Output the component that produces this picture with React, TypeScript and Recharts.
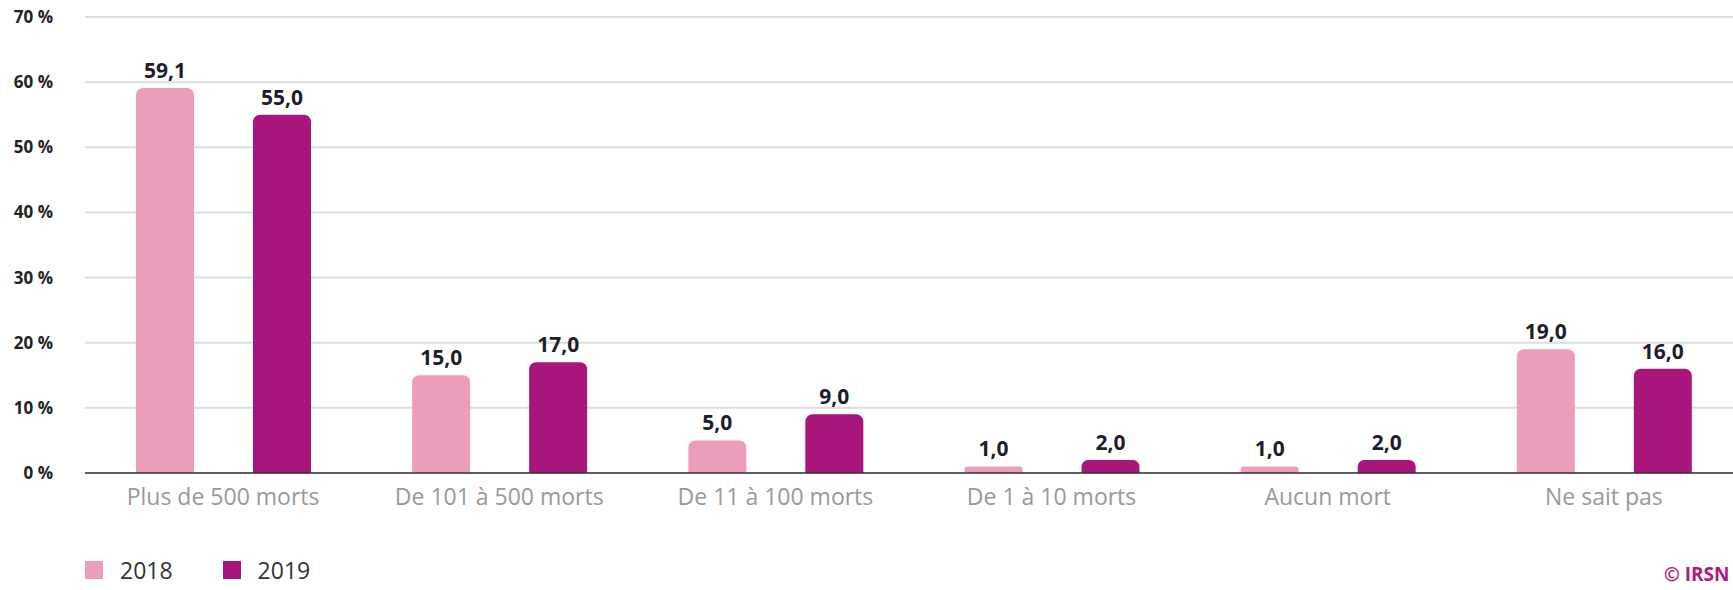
import { BarChart, Bar, XAxis, YAxis, CartesianGrid, LabelList } from "recharts";

// categories and series values
const categories = [
  "Plus de 500 morts",
  "De 101 à 500 morts",
  "De 11 à 100 morts",
  "De 1 à 10 morts",
  "Aucun mort",
  "Ne sait pas",
];
const values2018 = [59.1, 15.0, 5.0, 1.0, 1.0, 19.0];
const values2019 = [55.0, 17.0, 9.0, 2.0, 2.0, 16.0];
const yTicks = [0, 10, 20, 30, 40, 50, 60, 70];

const series = [
  { key: "y2018", name: "2018", color: "#EC9DBB", values: values2018 },
  { key: "y2019", name: "2019", color: "#A9167B", values: values2019 },
];

const data = categories.map((cat, i) => ({
  cat,
  y2018: values2018[i],
  y2019: values2019[i],
}));

const font = "'Open Sans', 'Noto Sans', sans-serif";
const fmt = (v: any) => Number(v).toFixed(1).replace(".", ",");

export default function App() {
  return (
    <div
      style={{
        position: "absolute",
        left: 0,
        top: 0,
        width: 1733,
        height: 590,
        overflow: "hidden",
        background: "#fff",
        fontFamily: font,
      }}
    >
      <BarChart
        width={1760}
        height={590}
        data={data}
        margin={{ top: 17, right: 18, bottom: 0, left: 0 }}
        barGap={59}
      >
        <CartesianGrid vertical={false} stroke="#dddddd" strokeWidth={2} />
        <YAxis
          width={85}
          domain={[0, 70]}
          ticks={yTicks}
          interval={0}
          axisLine={false}
          tickLine={false}
          tickSize={0}
          tickMargin={32}
          tick={{ fill: "#222", fontSize: 17, fontWeight: 700, fontFamily: font }}
          tickFormatter={(v) => `${v} %`}
        />
        <XAxis
          dataKey="cat"
          height={117}
          interval={0}
          axisLine={{ stroke: "#333", strokeWidth: 1.5 }}
          tickLine={false}
          tickSize={0}
          tickMargin={16}
          tick={{ fill: "#999", fontSize: 23, fontFamily: font }}
        />
        {series.map((s) => (
          <Bar
            key={s.key}
            dataKey={s.key}
            name={s.name}
            fill={s.color}
            barSize={58}
            radius={[7, 7, 0, 0]}
            isAnimationActive={false}
          >
            <LabelList
              dataKey={s.key}
              position="top"
              offset={10}
              formatter={fmt}
              style={{ fill: "#1d1d2b", fontSize: 21, fontWeight: 700, fontFamily: font }}
            />
          </Bar>
        ))}
      </BarChart>

      <div
        style={{
          position: "absolute",
          left: 85,
          top: 556,
          display: "flex",
          alignItems: "center",
          fontSize: 23,
          lineHeight: "28px",
          color: "#333",
        }}
      >
        {series.map((s) => (
          <div key={s.key} style={{ display: "flex", alignItems: "center", marginRight: 50 }}>
            <span style={{ display: "inline-block", width: 18, height: 18, background: s.color, marginRight: 17 }} />
            <span>{s.name}</span>
          </div>
        ))}
      </div>

      <div
        style={{
          position: "absolute",
          left: 1664,
          top: 562,
          fontSize: 19,
          lineHeight: "24px",
          fontWeight: 700,
          color: "#B0197F",
          whiteSpace: "nowrap",
        }}
      >
        © IRSN
      </div>
    </div>
  );
}
